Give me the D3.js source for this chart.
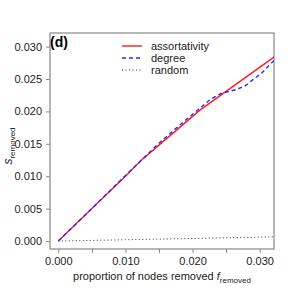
<!DOCTYPE html>
<html><head><meta charset="utf-8">
<script src="https://cdn.jsdelivr.net/npm/d3@7"></script>
<style>body{margin:0;background:#fff}svg{display:block}text{font-family:"Liberation Sans",Arial,sans-serif}</style>
</head><body>
<svg id="c" width="291" height="291"></svg>
<script>
const xTicks = [0, 0.005, 0.010, 0.015, 0.020, 0.025, 0.030];
const xTickLabels = ["0.000", "", "0.010", "", "0.020", "", "0.030"];
const yTicks = [0, 0.005, 0.010, 0.015, 0.020, 0.025, 0.030];
const yTickLabels = ["0.000", "0.005", "0.010", "0.015", "0.020", "0.025", "0.030"];
const seriesNames = ["assortativity", "degree", "random"];
const assortX = [0, 0.005, 0.010, 0.0124, 0.015, 0.0211, 0.025, 0.030, 0.0323];
const assortY = [0, 0.00503, 0.0100, 0.0125, 0.0148, 0.0202, 0.0231, 0.0268, 0.0285];
const degreeX = [0, 0.005, 0.010, 0.015, 0.018, 0.0211, 0.0226, 0.0243, 0.0263, 0.0278, 0.0290, 0.0303, 0.0315, 0.0323];
const degreeY = [0, 0.00502, 0.0101, 0.0151, 0.0178, 0.0205, 0.0218, 0.0228, 0.0233, 0.0239, 0.0249, 0.0259, 0.0272, 0.0280];
const randomX = [0, 0.005, 0.010, 0.015, 0.020, 0.025, 0.030, 0.0323];
const randomY = [0, 0.0001, 0.0002, 0.0003, 0.0004, 0.0005, 0.0006, 0.00066];

const svg = d3.select("#c");
const x = d3.scaleLinear().domain([-0.00124, 0.03214]).range([50, 274]);
const y = d3.scaleLinear().domain([-0.00123, 0.0321]).range([249, 33]);

svg.append("defs").append("clipPath").attr("id","clip")
  .append("rect").attr("x",50).attr("y",33).attr("width",224).attr("height",216);

const axisCol = "#888";
const txtCol = "#222";

// x axis
const xa = svg.append("g").attr("transform","translate(0,249)")
  .call(d3.axisBottom(x).tickValues(xTicks).tickSize(4).tickPadding(4)
    .tickFormat((d,i)=>xTickLabels[i]));
xa.select(".domain").remove();
xa.selectAll("line").attr("stroke",axisCol);
xa.selectAll("text").attr("fill",txtCol).style("font-size","11px");

// y axis
const ya = svg.append("g").attr("transform","translate(50,0)")
  .call(d3.axisLeft(y).tickValues(yTicks).tickSize(4).tickPadding(4)
    .tickFormat((d,i)=>yTickLabels[i]));
ya.select(".domain").remove();
ya.selectAll("line").attr("stroke",axisCol);
ya.selectAll("text").attr("fill",txtCol).style("font-size","11px");

// box
svg.append("rect").attr("x",50).attr("y",33).attr("width",224).attr("height",216)
  .attr("fill","none").attr("stroke",axisCol).attr("stroke-width",1.2);

const line = d3.line().x(d=>x(d[0])).y(d=>y(d[1]));
const g = svg.append("g").attr("clip-path","url(#clip)");
g.append("path").datum(randomX.map((v,i)=>[v,randomY[i]])).attr("d",line)
  .attr("fill","none").attr("stroke","#333").attr("stroke-width",1).attr("stroke-dasharray","1,2.5");
g.append("path").datum(assortX.map((v,i)=>[v,assortY[i]])).attr("d",line)
  .attr("fill","none").attr("stroke","#ff1a1a").attr("stroke-width",1.4);
g.append("path").datum(degreeX.map((v,i)=>[v,degreeY[i]])).attr("d",line)
  .attr("fill","none").attr("stroke","#2a2aff").attr("stroke-width",1.4).attr("stroke-dasharray","4,3");

// legend
const leg = [
  {c:"#ff1a1a", d:null, w:1.4},
  {c:"#2a2aff", d:"4,3", w:1.4},
  {c:"#333", d:"1,2.5", w:1}
];
leg.forEach((l,i)=>{
  const yy = 46 + i*12;
  const ln = svg.append("line").attr("x1",122).attr("x2",142).attr("y1",yy).attr("y2",yy)
    .attr("stroke",l.c).attr("stroke-width",l.w);
  if (l.d) ln.attr("stroke-dasharray",l.d);
  svg.append("text").attr("x",151).attr("y",yy+4).attr("fill",txtCol)
    .style("font-size","11px").text(seriesNames[i]);
});

// panel label
svg.append("text").attr("x",50).attr("y",47).attr("fill","#000")
  .style("font-size","14px").style("font-weight","bold").text("(d)");

// x label
const xl = svg.append("text").attr("x",162).attr("y",280).attr("text-anchor","middle")
  .attr("fill",txtCol).style("font-size","11px");
xl.append("tspan").text("proportion of nodes removed ");
xl.append("tspan").style("font-style","italic").text("f");
xl.append("tspan").attr("dy",3).style("font-size","8px").text("removed");

// y label
const yl = svg.append("text").attr("transform","translate(12,146) rotate(-90)")
  .attr("text-anchor","middle").attr("fill",txtCol).style("font-size","11px");
yl.append("tspan").style("font-style","italic").style("font-size","12px").text("s");
yl.append("tspan").attr("dy",3).style("font-size","8px").text("removed");
</script>
</body></html>
